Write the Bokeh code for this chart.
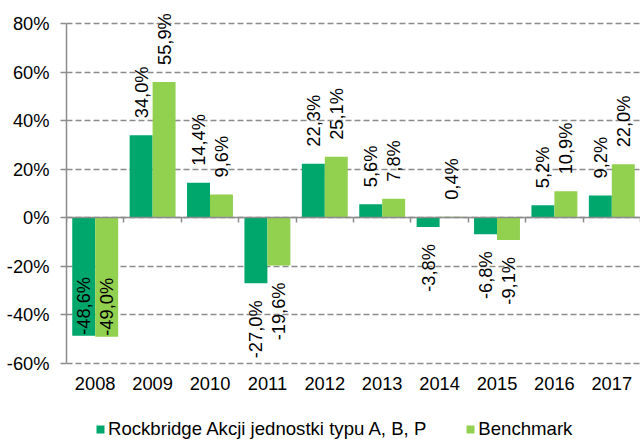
import numpy as np
from bokeh.plotting import figure
from bokeh.models import (ColumnDataSource, Range1d, LinearAxis, FixedTicker, Grid,
                          PrintfTickFormatter, CustomJSTickFormatter, Legend)
from bokeh.transform import dodge
from bokeh.core.properties import value
from bokeh.embed import file_html
from bokeh.resources import INLINE

# ---- data ----
years = ["2008", "2009", "2010", "2011", "2012", "2013", "2014", "2015", "2016", "2017"]
fund = [-48.6, 34.0, 14.4, -27.0, 22.3, 5.6, -3.8, -6.8, 5.2, 9.2]
bench = [-49.0, 55.9, 9.6, -19.6, 25.1, 7.8, 0.4, -9.1, 10.9, 22.0]
y_ticks = [-60, -40, -20, 0, 20, 40, 60, 80]
fund_name = "Rockbridge Akcji jednostki typu A, B, P"
bench_name = "Benchmark"

# ---- style / layout ----
DARK = "#00A76C"
LIGHT = "#92D050"
GRAY = "#8C8C8C"
FONT = "Liberation Sans"
FS = "18.3px"
LEG_FS = "18.6px"
BAR_W = 0.4
GAP_PX = 17
LABEL_SPAN = 24     # approx. label length in data units
W, H = 640, 439
TOP, LEFT = 23, 66  # pixel position of the 80% line / value axis
PLOT_PX = 340       # pixel height of the value axis
BELOW_PX = H - TOP - PLOT_PX  # room for year labels and legend inside the frame

ymin, ymax = y_ticks[0], y_ticks[-1]
per_px = (ymax - ymin) / PLOT_PX
ext_min = ymin - BELOW_PX * per_px
ext_max = ymax + TOP * per_px

idx = list(range(len(years)))

p = figure(width=W, height=H,
           x_range=Range1d(-0.5, len(years) - 0.5),
           y_range=Range1d(ext_min, ext_max),
           x_axis_type=None, y_axis_type=None,
           output_backend="svg", toolbar_location=None,
           min_border_left=LEFT, min_border_right=0, min_border_top=0, min_border_bottom=0)
p.outline_line_color = None
p.background_fill_color = "white"

yticker = FixedTicker(ticks=y_ticks)
p.add_layout(Grid(dimension=1, ticker=yticker, grid_line_color=GRAY, grid_line_width=1.5,
                  grid_line_dash="6 3", bounds=(ymin, ymax)))

yax = LinearAxis(ticker=yticker, formatter=PrintfTickFormatter(format="%d%%"),
                 bounds=(ymin, ymax),
                 major_tick_out=6, major_tick_in=0, minor_tick_line_color=None,
                 axis_line_color=GRAY, axis_line_width=1.5,
                 major_tick_line_color=GRAY, major_tick_line_width=1.5,
                 major_label_standoff=11,
                 major_label_text_font=FONT, major_label_text_font_size=FS,
                 major_label_text_color="black")
p.add_layout(yax, "left")

src = ColumnDataSource(dict(x=idx, fund=fund, bench=bench))
r1 = p.vbar(x=dodge("x", -BAR_W / 2, range=p.x_range), top="fund", bottom=0, width=BAR_W,
            source=src, fill_color=DARK, line_color=None)
r2 = p.vbar(x=dodge("x", BAR_W / 2, range=p.x_range), top="bench", bottom=0, width=BAR_W,
            source=src, fill_color=LIGHT, line_color=None)

# axis at zero with ticks between categories
bounds = [i - 0.5 for i in idx] + [len(years) - 0.5]
zax = LinearAxis(fixed_location=0, ticker=FixedTicker(ticks=bounds),
                 formatter=CustomJSTickFormatter(code="return ''"),
                 major_tick_out=5, major_tick_in=0, minor_tick_line_color=None,
                 axis_line_color=GRAY, axis_line_width=1.5,
                 major_tick_line_color=GRAY, major_tick_line_width=1.5)
p.add_layout(zax, "below")

# year labels, low position
xax = LinearAxis(fixed_location=ymin, ticker=FixedTicker(ticks=idx),
                 major_label_overrides={i: y for i, y in zip(idx, years)},
                 axis_line_color=None, major_tick_line_color=None, minor_tick_line_color=None,
                 major_tick_out=0, major_tick_in=0, major_label_standoff=13,
                 major_label_text_font=FONT, major_label_text_font_size=FS,
                 major_label_text_color="black")
p.add_layout(xax, "below")

# value labels
for series, d in ((fund, -BAR_W / 2), (bench, BAR_W / 2)):
    t, al, off = [], [], []
    for v in series:
        t.append(f"{v:.1f}%".replace(".", ","))
        if v >= 0:
            al.append("left"); off.append(-GAP_PX)
        elif v - LABEL_SPAN - 7 < ymin:
            al.append("left"); off.append(-1)
        else:
            al.append("right"); off.append(GAP_PX)
    ls = ColumnDataSource(dict(x=idx, v=series, t=t, al=al, off=off))
    p.text(x=dodge("x", d, range=p.x_range), y="v", text="t", source=ls,
           angle=np.pi / 2, text_align="al", text_baseline="middle", y_offset="off",
           text_font=value(FONT), text_font_size=FS, text_color="black")

legend = Legend(items=[(fund_name, [r1]), (bench_name, [r2])], orientation="horizontal",
                location=(29, -1), padding=0, margin=0, spacing=39,
                glyph_width=10, glyph_height=10, label_standoff=3,
                label_text_font=FONT, label_text_font_size=LEG_FS, label_text_color="black",
                border_line_color=None, background_fill_alpha=0)
p.add_layout(legend, "center")

open("out.html", "w").write(file_html(p, INLINE))
